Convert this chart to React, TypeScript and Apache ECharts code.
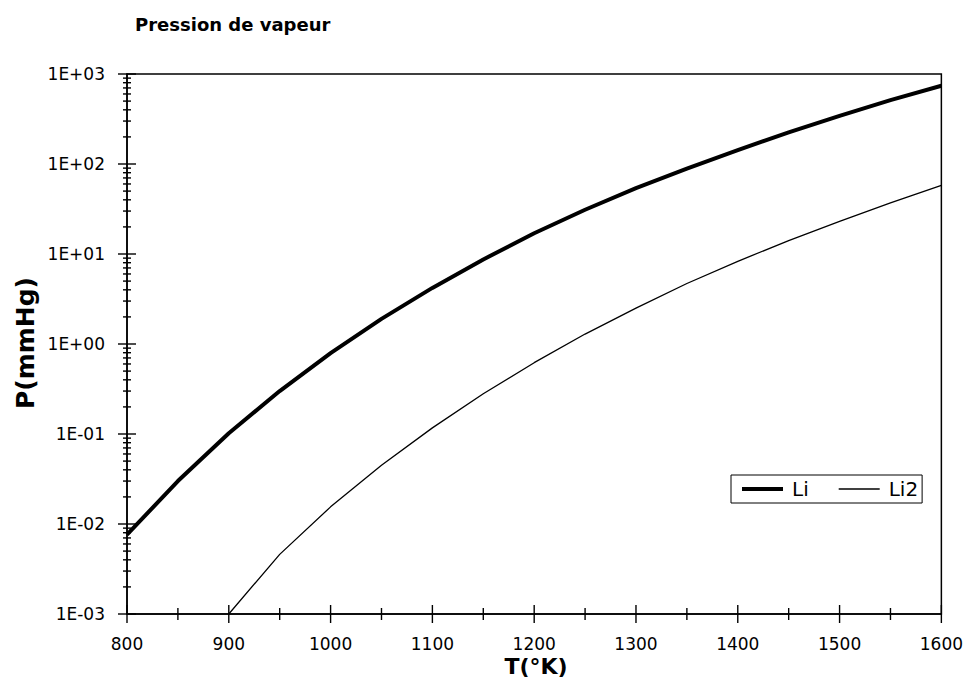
import React, { useEffect, useRef } from 'react';
import * as echarts from 'echarts';

// Temperatures (K) and vapour pressures (mmHg)
const liTemperatures = [800, 850, 900, 950, 1000, 1050, 1100, 1150, 1200, 1250, 1300, 1350, 1400, 1450, 1500, 1550, 1600];
const liPressure = [0.0076, 0.030, 0.102, 0.30, 0.79, 1.9, 4.2, 8.7, 17, 31, 54, 89, 143, 224, 343, 513, 741];

const li2Temperatures = [900, 950, 1000, 1050, 1100, 1150, 1200, 1250, 1300, 1350, 1400, 1450, 1500, 1550, 1600];
const li2Pressure = [0.001, 0.0046, 0.0155, 0.045, 0.117, 0.28, 0.62, 1.29, 2.5, 4.7, 8.3, 14.1, 23, 37, 58];

const xMajorTicks = [800, 900, 1000, 1100, 1200, 1300, 1400, 1500, 1600];
const xMinorTicks = [850, 950, 1050, 1150, 1250, 1350, 1450, 1550];
const yDecades = [0.001, 0.01, 0.1, 1, 10, 100, 1000];
const yTickLabels = ['1E-03', '1E-02', '1E-01', '1E+00', '1E+01', '1E+02', '1E+03'];
const yMinorMultipliers = [2, 3, 4, 5, 6, 7, 8, 9];

const seriesNames = ['Li', 'Li2'];
const titleText = 'Pression de vapeur';
const xAxisTitle = 'T(°K)';
const yAxisTitle = 'P(mmHg)';

const FONT = 'DejaVu Sans';

export default function App() {
  const ref = useRef<HTMLDivElement>(null);

  useEffect(() => {
    if (!ref.current) return;
    const chart = echarts.init(ref.current, undefined, { renderer: 'svg' });

    const xMin = xMajorTicks[0];
    const yMin = yDecades[0];
    const tickData: number[][] = [];
    xMajorTicks.forEach((t) => tickData.push([t, yMin, 0]));
    xMinorTicks.forEach((t) => tickData.push([t, yMin, 1]));
    yDecades.forEach((d) => tickData.push([xMin, d, 2]));
    yDecades.slice(0, -1).forEach((d) =>
      yMinorMultipliers.forEach((m) => tickData.push([xMin, d * m, 3]))
    );

    chart.setOption({
      animation: false,
      backgroundColor: '#fff',
      title: {
        text: titleText,
        left: 130,
        top: 10,
        padding: 5,
        textStyle: { fontFamily: FONT, fontSize: 18, fontWeight: 'bold', color: '#000' },
      },
      legend: {
        data: [
          { name: seriesNames[0], icon: 'path://M0,0H41V4H0Z' },
          { name: seriesNames[1], icon: 'path://M0,0H41V1.3H0Z' },
        ],
        left: 731,
        top: 475,
        orient: 'horizontal',
        padding: [4, 4, 4, 11],
        itemGap: 30,
        itemWidth: 41,
        itemHeight: 14,
        symbolKeepAspect: true,
        borderColor: '#000',
        borderWidth: 1,
        backgroundColor: '#fff',
        itemStyle: { color: '#000', borderWidth: 0 },
        textStyle: { fontFamily: FONT, fontSize: 20, color: '#000', padding: [0, 0, 0, 4] },
      },
      grid: {
        left: 127,
        right: 21,
        top: 74,
        bottom: 67,
        show: true,
        borderColor: '#000',
        borderWidth: 1.5,
        containLabel: false,
      },
      xAxis: {
        type: 'value',
        min: 800,
        max: 1600,
        interval: 100,
        axisLine: { show: true, lineStyle: { color: '#000', width: 1.5 } },
        axisTick: { show: false },
        splitLine: { show: false },
        axisLabel: {
          margin: 21,
          fontFamily: FONT,
          fontSize: 17,
          color: '#000',
          formatter: (v: number) => String(v),
        },
      },
      yAxis: {
        type: 'log',
        logBase: 10,
        min: 0.001,
        max: 1000,
        splitNumber: 6,
        axisLine: { show: true, lineStyle: { color: '#000', width: 1.5 } },
        axisTick: { show: false },
        splitLine: { show: false },
        axisLabel: {
          margin: 22,
          fontFamily: FONT,
          fontSize: 17,
          color: '#000',
          formatter: (v: number) => {
            const idx = yDecades.findIndex((d) => Math.abs(Math.log10(d) - Math.log10(v)) < 1e-6);
            return idx >= 0 ? yTickLabels[idx] : '';
          },
        },
      },
      graphic: [
        {
          type: 'text',
          x: 25,
          y: 343,
          rotation: Math.PI / 2,
          style: {
            text: yAxisTitle,
            fontFamily: FONT,
            fontSize: 25,
            fontWeight: 'bold',
            fill: '#000',
            align: 'center',
            verticalAlign: 'middle',
          },
        },
        {
          type: 'text',
          x: 536,
          y: 666,
          style: {
            text: xAxisTitle,
            fontFamily: FONT,
            fontSize: 22,
            fontWeight: 'bold',
            fill: '#000',
            align: 'center',
            verticalAlign: 'middle',
          },
        },
      ],
      series: [
        {
          name: seriesNames[0],
          type: 'line',
          data: liTemperatures.map((t, i) => [t, liPressure[i]]),
          showSymbol: false,
          symbol: 'none',
          smooth: false,
          lineStyle: { color: '#000', width: 4, join: 'round' },
          itemStyle: { color: '#000' },
          z: 3,
        },
        {
          name: seriesNames[1],
          type: 'line',
          data: li2Temperatures.map((t, i) => [t, li2Pressure[i]]),
          showSymbol: false,
          symbol: 'none',
          smooth: false,
          lineStyle: { color: '#000', width: 1.3, join: 'round' },
          itemStyle: { color: '#000' },
          z: 3,
        },
        {
          name: 'ticks',
          type: 'custom',
          silent: true,
          clip: false,
          z: 5,
          data: tickData,
          renderItem: (_params: any, api: any) => {
            const x = api.value(0);
            const y = api.value(1);
            const kind = api.value(2);
            const p = api.coord([x, y]);
            let shape;
            if (kind < 2) {
              const h = kind === 0 ? 9 : 6;
              shape = { x1: p[0], y1: p[1] - h, x2: p[0], y2: p[1] + h };
            } else {
              const h = kind === 2 ? 9 : 4;
              shape = { x1: p[0] - h, y1: p[1], x2: p[0] + h, y2: p[1] };
            }
            return { type: 'line', shape, style: { stroke: '#000', lineWidth: 1.4 } };
          },
        },
      ],
    });

    return () => chart.dispose();
  }, []);

  return (
    <div
      ref={ref}
      style={{ position: 'fixed', left: 0, top: 0, width: 966, height: 681, background: '#fff' }}
    />
  );
}
